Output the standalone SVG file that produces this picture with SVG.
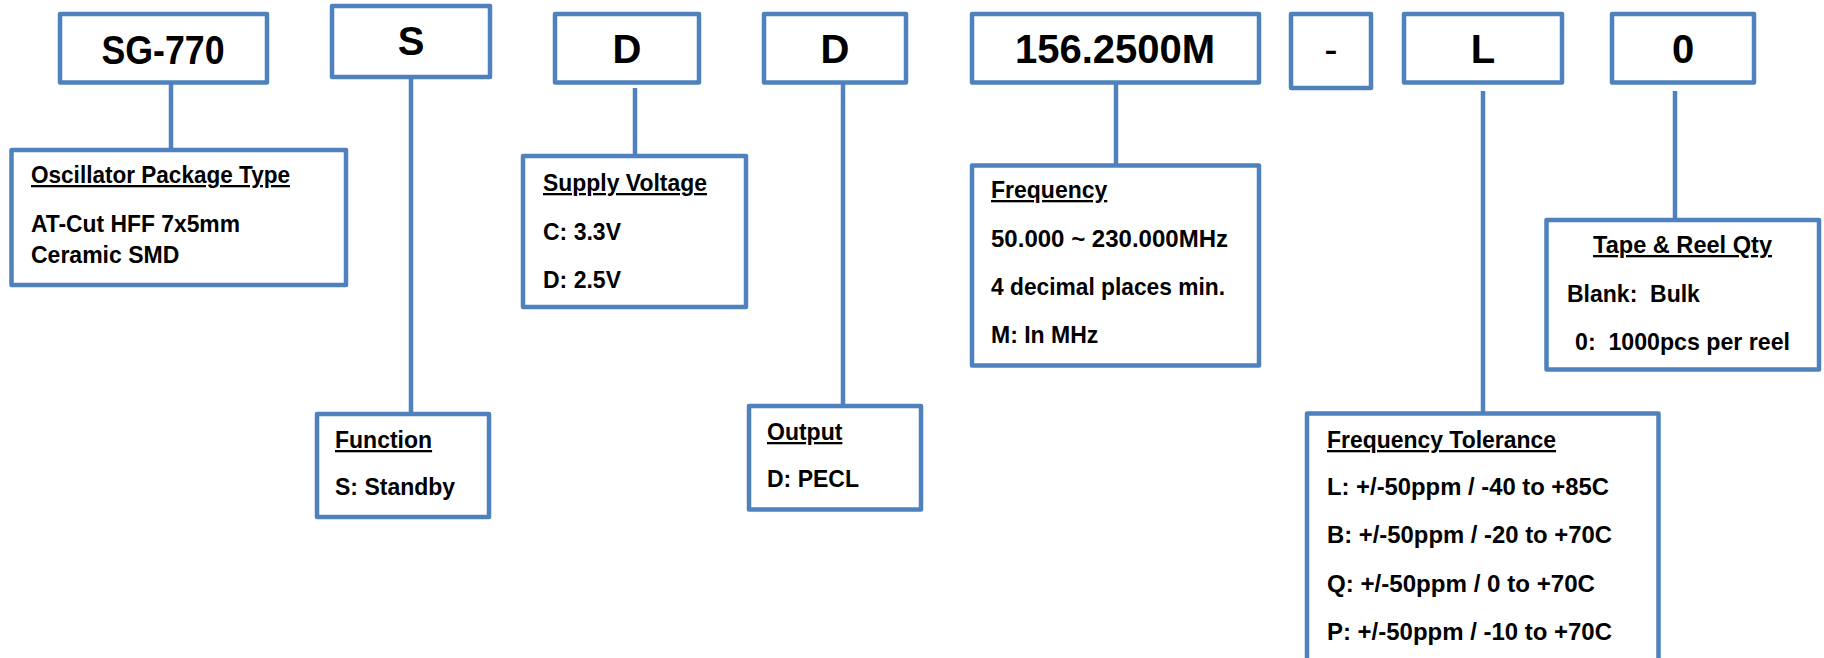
<svg xmlns="http://www.w3.org/2000/svg" width="1824" height="658" viewBox="0 0 1824 658">
<style>
.box{fill:#fff;stroke:#4F81BD;stroke-width:4.5;stroke-linejoin:round}
.con line{stroke:#4F81BD;stroke-width:4.5}
text{font-family:"Liberation Sans",Arial,sans-serif;font-weight:bold;fill:#000;white-space:pre}
.big{font-size:40px;text-anchor:middle}
.t{font-size:23px}
.h{font-size:23px;text-decoration:underline}
</style>
<rect width="1824" height="658" fill="#fff"/>
<g id="connectors" class="con">
<line x1="171" y1="82" x2="171" y2="150"/>
<line x1="411" y1="77" x2="411" y2="414"/>
<line x1="635" y1="88" x2="635" y2="156"/>
<line x1="843" y1="82" x2="843" y2="406"/>
<line x1="1116" y1="82" x2="1116" y2="166"/>
<line x1="1483" y1="91" x2="1483" y2="414"/>
<line x1="1675" y1="91" x2="1675" y2="220"/>
</g>
<g id="n-sg770"><rect class="box" x="60" y="14" width="207" height="68.5"/><text class="big" x="163" y="64" textLength="123" lengthAdjust="spacingAndGlyphs">SG-770</text></g>
<g id="n-s"><rect class="box" x="332" y="6" width="158" height="71"/><text class="big" x="411" y="55">S</text></g>
<g id="n-d1"><rect class="box" x="555" y="14" width="144" height="68.5"/><text class="big" x="627" y="63">D</text></g>
<g id="n-d2"><rect class="box" x="764" y="14" width="142" height="68.5"/><text class="big" x="835" y="63">D</text></g>
<g id="n-freqcode"><rect class="box" x="972" y="14" width="287" height="68.5"/><text class="big" x="1115" y="63">156.2500M</text></g>
<g id="n-dash"><rect class="box" x="1291" y="14" width="80" height="74"/><text class="big" x="1331" y="63" style="font-weight:normal">-</text></g>
<g id="n-l"><rect class="box" x="1404" y="14" width="158" height="68.5"/><text class="big" x="1483" y="63">L</text></g>
<g id="n-0"><rect class="box" x="1612" y="14" width="142" height="68.5"/><text class="big" x="1683" y="63">0</text></g>

<g id="n-package"><rect class="box" x="11.5" y="150" width="334.5" height="135"/>
<text class="h" x="31" y="183" textLength="259" lengthAdjust="spacingAndGlyphs">Oscillator Package Type</text>
<text class="t" x="31" y="232" textLength="209" lengthAdjust="spacingAndGlyphs">AT-Cut HFF 7x5mm</text>
<text class="t" x="31" y="263">Ceramic SMD</text></g>

<g id="n-function"><rect class="box" x="317" y="414" width="172" height="103"/>
<text class="h" x="335" y="448">Function</text>
<text class="t" x="335" y="495">S: Standby</text></g>

<g id="n-supply"><rect class="box" x="523" y="156" width="223" height="151"/>
<text class="h" x="543" y="191" textLength="164" lengthAdjust="spacingAndGlyphs">Supply Voltage</text>
<text class="t" x="543" y="240">C: 3.3V</text>
<text class="t" x="543" y="288">D: 2.5V</text></g>

<g id="n-output"><rect class="box" x="749" y="406" width="172" height="103.5"/>
<text class="h" x="767" y="440">Output</text>
<text class="t" x="767" y="487">D: PECL</text></g>

<g id="n-frequency"><rect class="box" x="972" y="165.5" width="287" height="200"/>
<text class="h" x="991" y="198">Frequency</text>
<text class="t" x="991" y="247" textLength="237" lengthAdjust="spacingAndGlyphs">50.000 ~ 230.000MHz</text>
<text class="t" x="991" y="295" textLength="234" lengthAdjust="spacingAndGlyphs">4 decimal places min.</text>
<text class="t" x="991" y="343">M: In MHz</text></g>

<g id="n-tolerance"><rect class="box" x="1307" y="413.5" width="351.5" height="247"/>
<text class="h" x="1327" y="448" textLength="229" lengthAdjust="spacingAndGlyphs">Frequency Tolerance</text>
<text class="t" x="1327" y="495" textLength="282" lengthAdjust="spacingAndGlyphs">L: +/-50ppm / -40 to +85C</text>
<text class="t" x="1327" y="543" textLength="285" lengthAdjust="spacingAndGlyphs">B: +/-50ppm / -20 to +70C</text>
<text class="t" x="1327" y="592" textLength="268" lengthAdjust="spacingAndGlyphs">Q: +/-50ppm / 0 to +70C</text>
<text class="t" x="1327" y="640" textLength="285" lengthAdjust="spacingAndGlyphs">P: +/-50ppm / -10 to +70C</text></g>

<g id="n-tape"><rect class="box" x="1546.5" y="220" width="272.5" height="149.5"/>
<text class="h" x="1593" y="253" textLength="179" lengthAdjust="spacingAndGlyphs">Tape &amp; Reel Qty</text>
<text class="t" x="1567" y="302">Blank:  Bulk</text>
<text class="t" x="1575" y="350" textLength="215" lengthAdjust="spacingAndGlyphs">0:  1000pcs per reel</text></g>
</svg>
